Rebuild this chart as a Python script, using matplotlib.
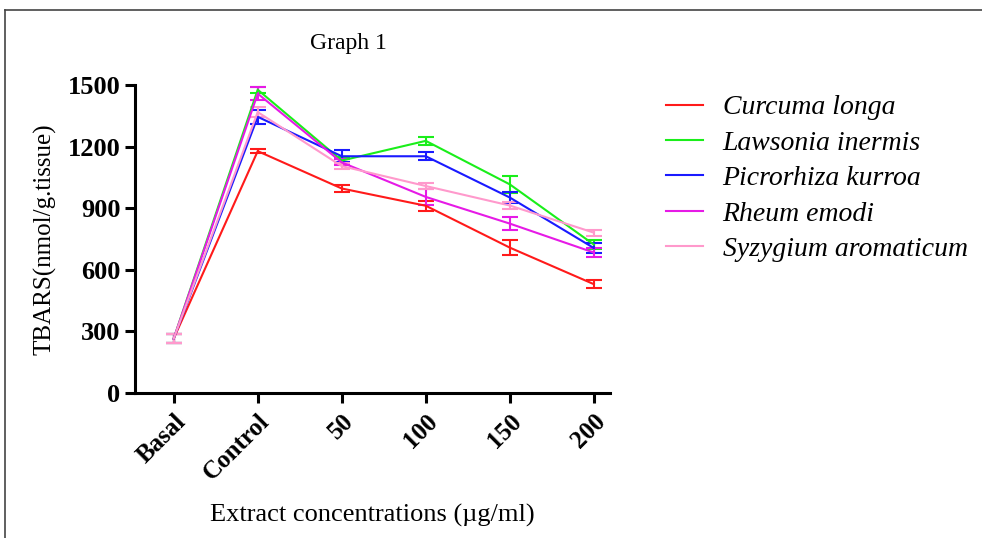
import numpy as np
import matplotlib
matplotlib.use('Agg')
import matplotlib.pyplot as plt
from matplotlib.lines import Line2D

plt.rcParams['font.family'] = 'Liberation Serif'

groups = ['Basal', 'Control', '50', '100', '150', '200']
names = ['Curcuma longa', 'Lawsonia inermis', 'Picrorhiza kurroa', 'Rheum emodi', 'Syzygium aromaticum']
colors = ['#ff1a1a', '#1aee1a', '#1a1aff', '#e61ae6', '#ff99cc']

curcuma = [265, 1178, 996, 912, 708, 530]
lawsonia = [265, 1477, 1132, 1228, 1016, 723]
picrorhiza = [265, 1345, 1153, 1153, 952, 706]
rheum = [265, 1458, 1123, 955, 825, 684]
syzygium = [265, 1368, 1105, 1008, 913, 781]

curcuma_err = [20, 10, 15, 25, 35, 20]
lawsonia_err = [20, 15, 15, 20, 40, 20]
picrorhiza_err = [20, 35, 30, 20, 25, 25]
rheum_err = [20, 30, 15, 40, 30, 20]
syzygium_err = [20, 25, 15, 15, 15, 15]

series = [curcuma, lawsonia, picrorhiza, rheum, syzygium]
errs = [curcuma_err, lawsonia_err, picrorhiza_err, rheum_err, syzygium_err]

fig = plt.figure(figsize=(9.82, 5.38), dpi=100)
ax = fig.add_axes([0.1375, 0.2695, 0.4835, 0.5725])

x = np.arange(len(groups))
for vals, err, c, n in zip(series, errs, colors, names):
    ax.errorbar(x, vals, yerr=err, color=c, lw=1.5, capsize=6, capthick=1.5,
                elinewidth=1.5, label=n)

ax.set_xlim(-0.46, 5.19)
ax.set_ylim(0, 1500)
ax.set_yticks([0, 300, 600, 900, 1200, 1500])
ax.set_xticks(x)
ax.set_xticklabels(groups, rotation=45, ha='right', rotation_mode='anchor',
                   fontsize=18, fontweight='bold')
for lab in ax.get_yticklabels():
    lab.set_fontsize(19)
    lab.set_fontweight('bold')
ax.spines['top'].set_visible(False)
ax.spines['right'].set_visible(False)
ax.spines['left'].set_linewidth(2.2)
ax.spines['bottom'].set_linewidth(2.2)
ax.tick_params(direction='out', length=7, width=2.2)
ax.tick_params(axis='x', pad=5)

ax.set_ylabel('TBARS(nmol/g.tissue)', fontsize=18, labelpad=8)
ax.set_xlabel('Extract concentrations (\u00b5g/ml)', fontsize=19, labelpad=14)
ax.set_title('Graph 1', fontsize=17, pad=26, x=0.45)

handles = [Line2D([0], [0], color=c, lw=1.5) for c in colors]
leg = fig.legend(handles, names, loc='upper left', bbox_to_anchor=(0.673, 0.834),
                 frameon=False, fontsize=20, handlelength=1.3, handletextpad=0.72,
                 labelspacing=0.36, borderpad=0.2, borderaxespad=0)
for t in leg.get_texts():
    t.set_fontstyle('italic')

# page frame lines
fig.add_artist(Line2D([0.005, 1.0], [0.982, 0.982], color='#444444', lw=1.2))
fig.add_artist(Line2D([0.005, 0.005], [0.0, 0.982], color='#444444', lw=1.2))

fig.savefig('out.png', dpi=100)
